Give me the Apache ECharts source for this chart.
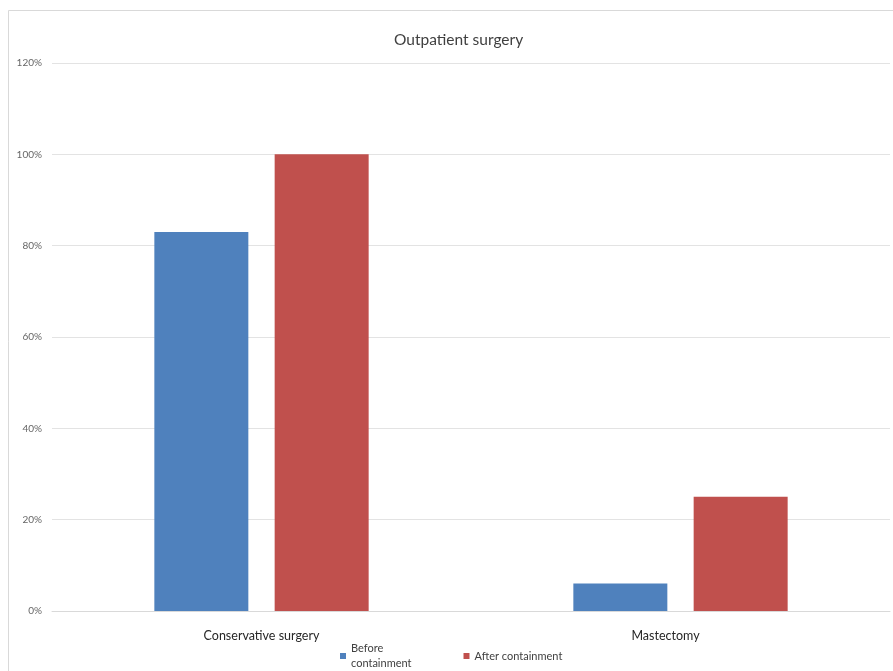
<!DOCTYPE html>
<html><head><meta charset="utf-8">
<script src="https://cdn.jsdelivr.net/npm/echarts@6/dist/echarts.min.js"></script>
<style>html,body{margin:0;padding:0;background:#fff}#c{width:893px;height:671px}</style>
</head><body><div id="c"></div>
<script>
const categories = ["Conservative surgery", "Mastectomy"];
const beforeValues = [83, 6];
const afterValues = [100, 25];
const seriesNames = ["Before\ncontainment", "After containment"];
const yTicks = [0, 20, 40, 60, 80, 100, 120];

const chart = echarts.init(document.getElementById('c'), null, {renderer: 'canvas'});
chart.setOption({
  backgroundColor: '#fff',
  animation: false,
  textStyle: {fontFamily: 'Lato'},
  graphic: [{
    type: 'rect', shape: {x: 8.5, y: 10.5, width: 900, height: 700},
    style: {fill: 'none', stroke: '#d9d9d9', lineWidth: 1}, silent: true, z: -1
  }],
  title: {
    text: 'Outpatient surgery', left: 389, top: 27,
    textStyle: {fontSize: 15.5, fontWeight: 'normal', color: '#404040', fontFamily: 'Lato'}
  },
  legend: {
    left: 335, top: 636, itemWidth: 6, itemHeight: 6, itemGap: 52, icon: 'rect',
    textStyle: {fontSize: 11, color: '#404040', fontFamily: 'Lato', lineHeight: 15},
    data: seriesNames
  },
  grid: {left: 52, right: 3, top: 63, bottom: 60, containLabel: false},
  xAxis: {
    type: 'category',
    data: categories.map((c, i) => i === 1 ? {value: c, textStyle: {padding: [0, 30, 0, 0]}} : c),
    axisLine: {lineStyle: {color: '#d9d9d9'}},
    axisTick: {show: false},
    axisLabel: {fontSize: 12.5, color: '#262626', margin: 18, fontFamily: 'Lato'}
  },
  yAxis: {
    type: 'value', min: yTicks[0], max: yTicks[yTicks.length - 1], interval: 20,
    axisLine: {show: false}, axisTick: {show: false},
    splitLine: {lineStyle: {color: '#e3e3e3'}},
    axisLabel: {formatter: '{value}%', fontSize: 10, color: '#666666', margin: 10, fontFamily: 'Lato'}
  },
  series: [
    {name: seriesNames[0], type: 'bar', data: beforeValues, barWidth: 94, barGap: '28%',
     itemStyle: {color: '#4f81bd'}},
    {name: seriesNames[1], type: 'bar', data: afterValues, barWidth: 94,
     itemStyle: {color: '#c0504d'}}
  ]
});
</script></body></html>
